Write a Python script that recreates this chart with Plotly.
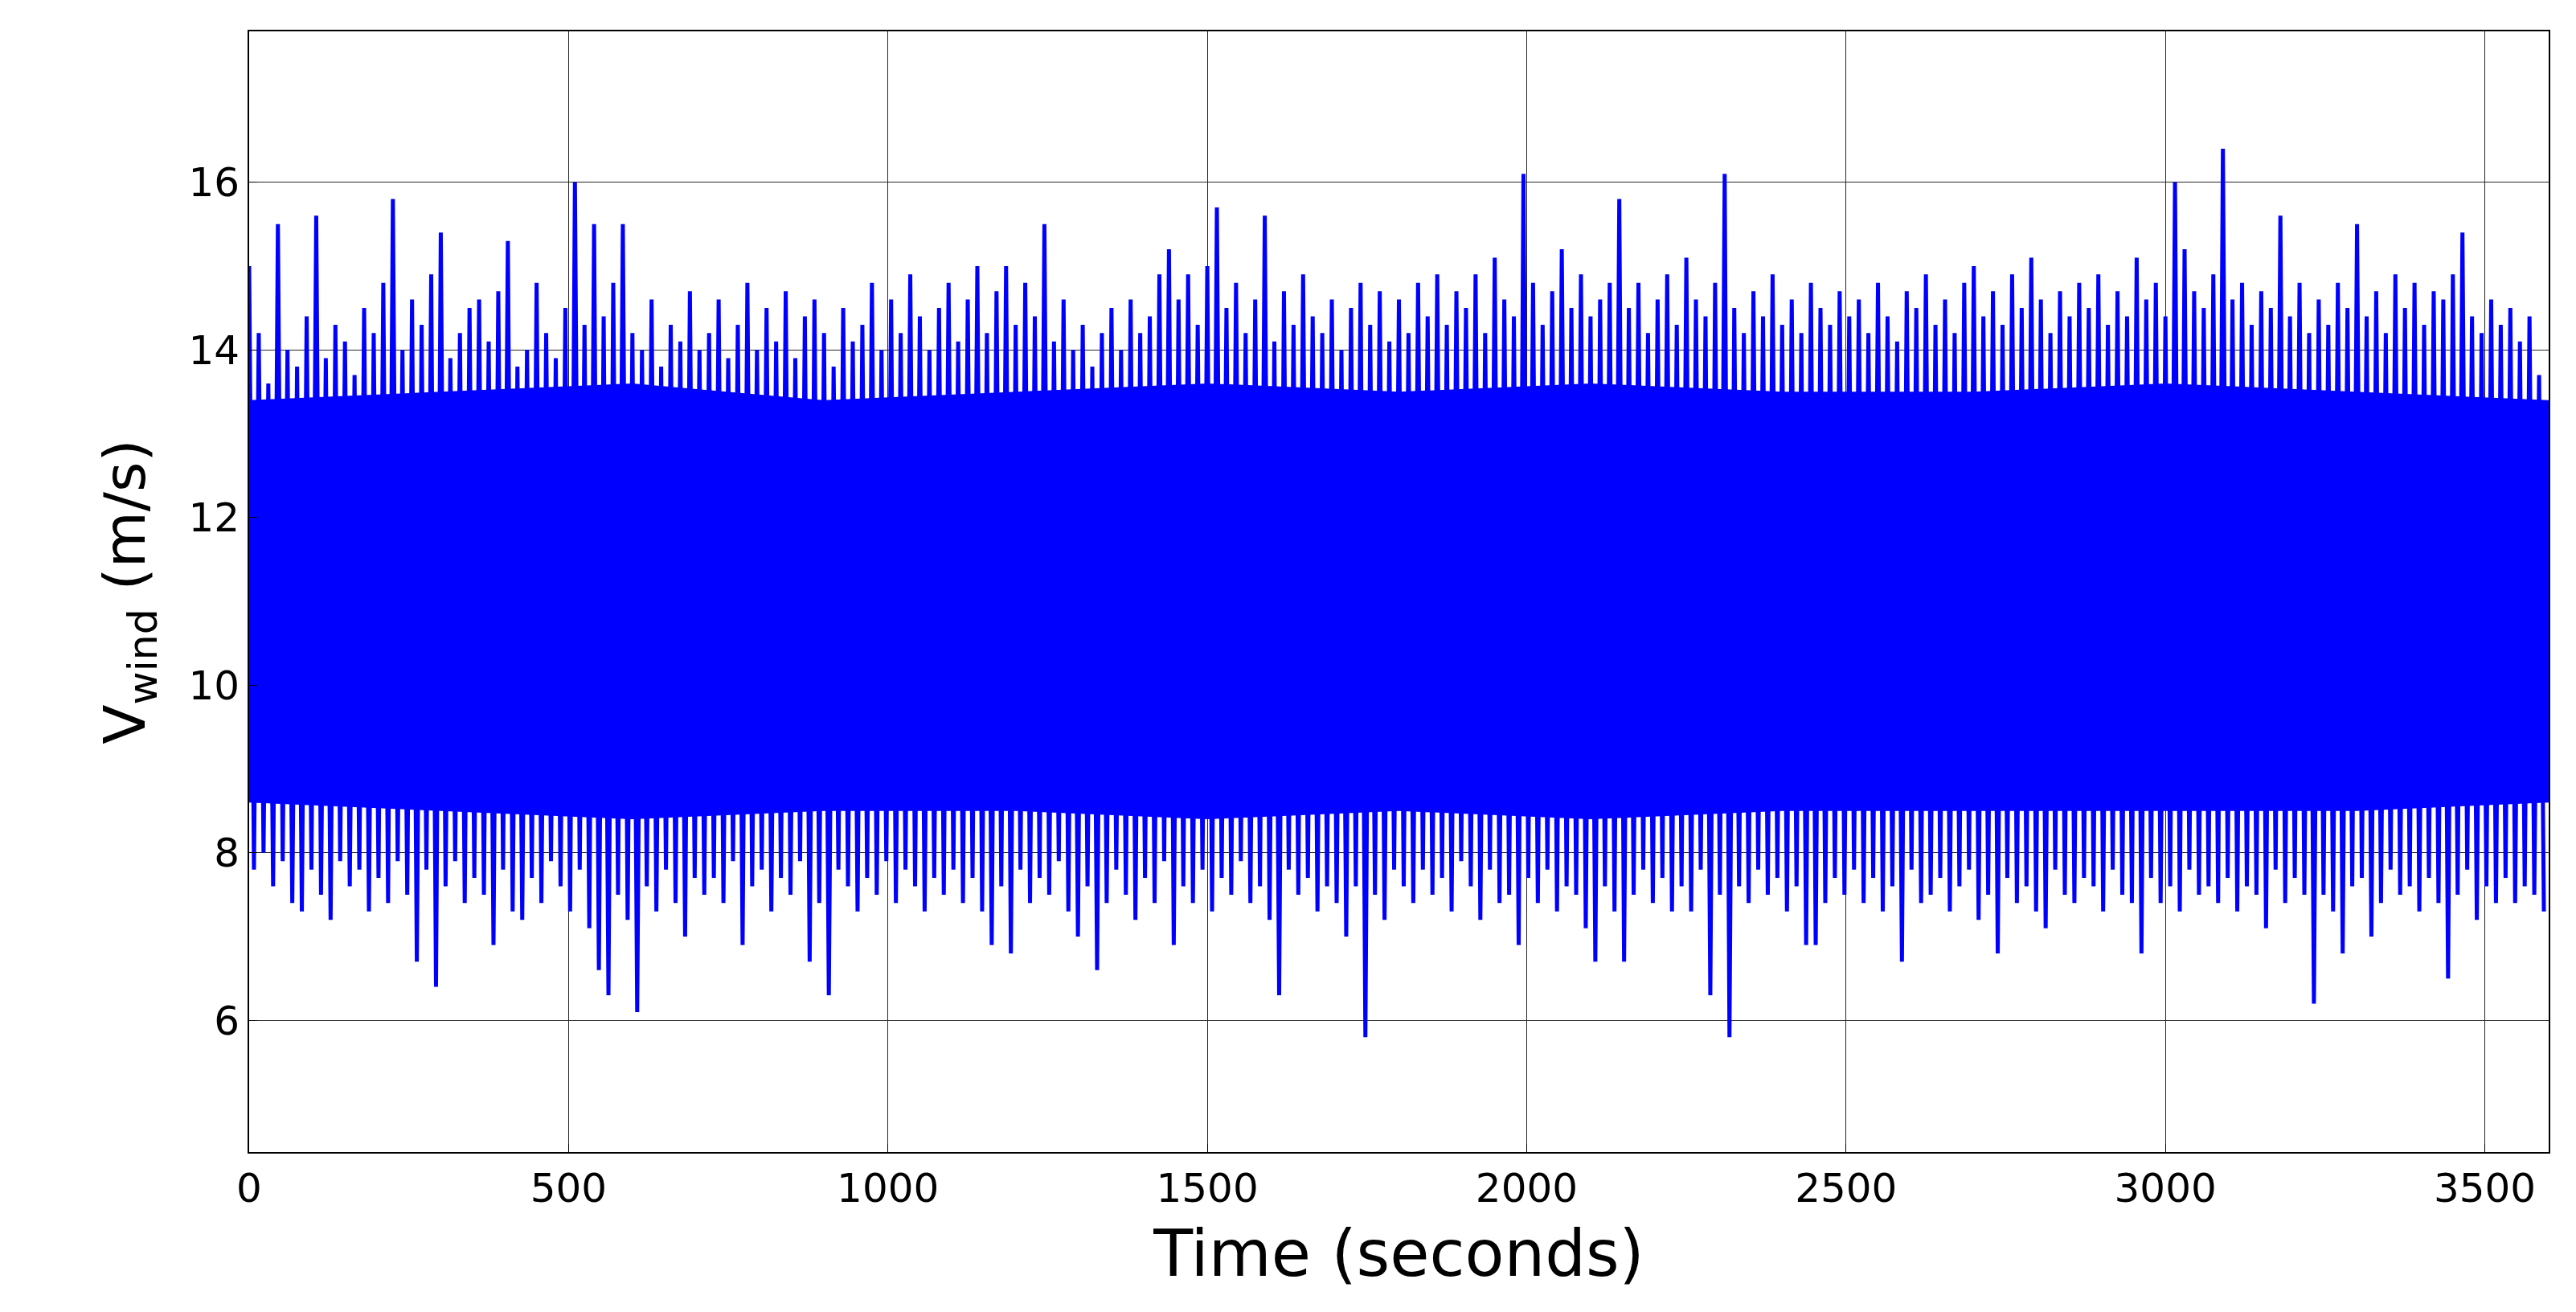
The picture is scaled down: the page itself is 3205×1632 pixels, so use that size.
import plotly.graph_objects as go

# Upper peaks (t = 0, 15, 30, ...) and lower troughs (t = 7.5, 22.5, ...)
upper_peaks = [
15.0,14.2,13.6,15.5,14.0,13.8,14.4,15.6,13.9,14.3,14.1,13.7,14.5,14.2,14.8,15.8,14.0,14.6,14.3,14.9,15.4,13.9,14.2,14.5,
14.6,14.1,14.7,15.3,13.8,14.0,14.8,14.2,13.9,14.5,16.0,14.3,15.5,14.4,14.8,15.5,14.2,14.0,14.6,13.8,14.3,14.1,14.7,14.0,
14.2,14.6,13.9,14.3,14.8,14.0,14.5,14.1,14.7,13.9,14.4,14.6,14.2,13.8,14.5,14.1,14.3,14.8,14.0,14.6,14.2,14.9,14.4,14.0,
14.5,14.8,14.1,14.6,15.0,14.2,14.7,15.0,14.3,14.8,14.4,15.5,14.1,14.6,14.0,14.3,13.8,14.2,14.5,14.0,14.6,14.2,14.4,14.9,
15.2,14.6,14.9,14.3,15.0,15.7,14.5,14.8,14.2,14.6,15.6,14.1,14.7,14.3,14.9,14.4,14.2,14.6,14.0,14.5,14.8,14.3,14.7,14.1,
14.6,14.2,14.8,14.4,14.9,14.3,14.7,14.5,14.9,14.2,15.1,14.6,14.4,16.1,14.8,14.3,14.7,15.2,14.5,14.9,14.4,14.6,14.8,15.8,
14.5,14.8,14.2,14.6,14.9,14.3,15.1,14.6,14.4,14.8,16.1,14.5,14.2,14.7,14.4,14.9,14.3,14.6,14.2,14.8,14.5,14.3,14.7,14.4,
14.6,14.2,14.8,14.4,14.1,14.7,14.5,14.9,14.3,14.6,14.2,14.8,15.0,14.4,14.7,14.3,14.9,14.5,15.1,14.6,14.2,14.7,14.4,14.8,
14.5,14.9,14.3,14.7,14.4,15.1,14.6,14.8,14.4,16.0,15.2,14.7,14.5,14.9,16.4,14.6,14.8,14.3,14.7,14.5,15.6,14.4,14.8,14.2,
14.6,14.3,14.8,14.5,15.5,14.4,14.7,14.2,14.9,14.5,14.8,14.3,14.7,14.6,14.9,15.4,14.4,14.2,14.6,14.3,14.5,14.1,14.4,13.7,
]
lower_troughs = [
7.8,8.0,7.6,7.9,7.4,7.3,7.8,7.5,7.2,7.9,7.6,7.8,7.3,7.7,7.4,7.9,7.5,6.7,7.8,6.4,7.6,7.9,7.4,7.7,
7.5,6.9,7.8,7.3,7.2,7.7,7.4,7.9,7.6,7.3,7.8,7.1,6.6,6.3,7.5,7.2,6.1,7.6,7.3,7.8,7.4,7.0,7.7,7.5,
7.7,7.4,7.9,6.9,7.6,7.8,7.3,7.7,7.5,7.9,6.7,7.4,6.3,7.8,7.6,7.3,7.7,7.5,7.9,7.4,7.8,7.6,7.3,7.7,
7.5,7.8,7.4,7.7,7.3,6.9,7.6,6.8,7.8,7.4,7.7,7.5,7.9,7.3,7.0,7.6,6.6,7.4,7.8,7.5,7.2,7.7,7.4,7.9,
6.9,7.6,7.4,7.8,7.3,7.7,7.5,7.9,7.4,7.6,7.2,6.3,7.8,7.5,7.7,7.3,7.6,7.4,7.0,7.6,5.8,7.5,7.2,7.8,
7.6,7.4,7.8,7.5,7.7,7.3,7.9,7.6,7.2,7.8,7.4,7.5,6.9,7.7,7.4,7.8,7.3,7.6,7.5,7.1,6.7,7.6,7.3,6.7,
7.5,7.8,7.4,7.7,7.3,7.6,7.3,7.8,6.3,7.5,5.8,7.6,7.4,7.8,7.5,7.7,7.3,7.6,6.9,6.9,7.4,7.7,7.5,7.8,
7.4,7.7,7.3,7.6,6.7,7.8,7.4,7.5,7.7,7.3,7.6,7.8,7.2,7.5,6.8,7.7,7.4,7.6,7.3,7.1,7.8,7.5,7.4,7.7,
7.6,7.3,7.8,7.5,7.4,6.8,7.7,7.4,7.6,7.3,7.8,7.5,7.6,7.4,7.7,7.3,7.6,7.5,7.1,7.8,7.4,7.7,7.5,6.2,
7.5,7.3,6.8,7.6,7.7,7.0,7.4,7.8,7.5,7.6,7.3,7.7,7.4,6.5,7.5,7.8,7.2,7.6,7.4,7.7,7.4,7.6,7.5,7.3,
]
step = 15.0

# Edges of the solid dense core of the band, read every 300 s
core_times = [0, 300, 600, 900, 1200, 1500, 1800, 2100, 2400, 2700, 3000, 3300, 3600]
core_top = [13.4, 13.5, 13.6, 13.4, 13.5, 13.6, 13.5, 13.6, 13.5, 13.5, 13.6, 13.5, 13.4]
core_bottom = [8.6, 8.5, 8.4, 8.5, 8.5, 8.4, 8.5, 8.4, 8.5, 8.5, 8.5, 8.5, 8.6]

t, v = [], []
for i, (hi, lo) in enumerate(zip(upper_peaks, lower_troughs)):
    t += [i * step, i * step + step / 2]
    v += [hi, lo]

blue = "#0000FF"
fig = go.Figure()
fig.add_trace(go.Scatter(x=core_times, y=core_bottom, mode="lines", line=dict(width=0, color=blue),
                         showlegend=False, hoverinfo="skip"))
fig.add_trace(go.Scatter(x=core_times, y=core_top, mode="lines", line=dict(width=0, color=blue),
                         fill="tonexty", fillcolor=blue, showlegend=False, hoverinfo="skip"))
fig.add_trace(go.Scatter(x=t, y=v, mode="lines", line=dict(color=blue, width=5), showlegend=False))

axis_common = dict(showline=True, linecolor="black", linewidth=2, mirror=True,
                   showgrid=True, gridcolor="#262626", gridwidth=1.2, zeroline=False,
                   ticks="inside", ticklen=10, tickcolor="black",
                   tickfont=dict(size=50, color="black"))
fig.update_xaxes(range=[0, 3600], dtick=500,
                 title=dict(text="Time (seconds)", font=dict(size=80, color="black"), standoff=25), **axis_common)
fig.update_yaxes(range=[4.43, 17.8], tickvals=[6, 8, 10, 12, 14, 16],
                 title=dict(text="V<sub>wind</sub> (m/s)", font=dict(size=72, color="black"), standoff=30), **axis_common)
fig.update_layout(width=3205, height=1632, paper_bgcolor="white", plot_bgcolor="white",
                  font=dict(family="DejaVu Sans, sans-serif"),
                  margin=dict(l=302, r=42, t=31, b=207))
fig.write_html("out.html")
